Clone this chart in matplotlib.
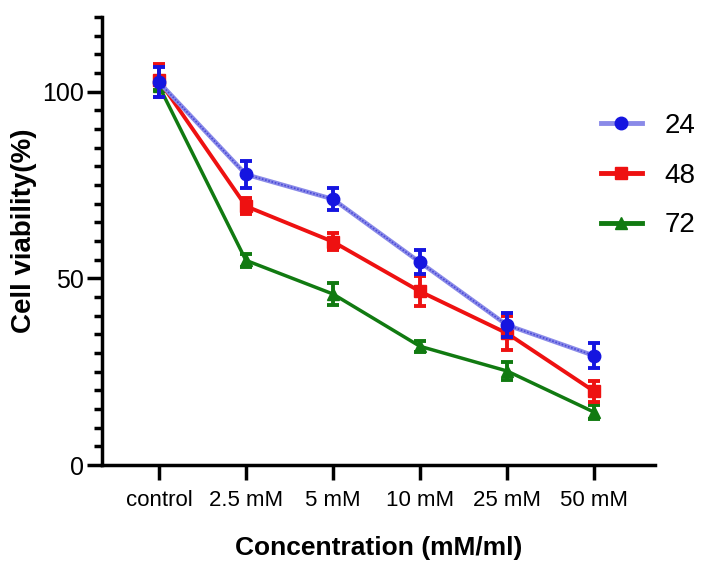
import matplotlib
matplotlib.use("Agg")
import matplotlib.pyplot as plt
from matplotlib.ticker import MultipleLocator
from matplotlib.lines import Line2D
import numpy as np

plt.rcParams['font.family'] = ['Liberation Sans', 'DejaVu Sans']

categories = ["control", "2.5 mM", "5 mM", "10 mM", "25 mM", "50 mM"]
series_names = ["24", "48", "72"]

mean_24 = [102.5, 77.8, 71.2, 54.3, 37.5, 29.3]
err_24 = [4.0, 3.5, 3.0, 3.2, 3.2, 3.3]
mean_48 = [103.0, 69.3, 59.8, 46.5, 35.3, 19.8]
err_48 = [4.5, 2.2, 2.2, 4.0, 4.5, 2.8]
mean_72 = [101.5, 54.8, 45.8, 31.8, 25.2, 14.2]
err_72 = [1.2, 1.8, 3.0, 1.5, 2.5, 2.0]

fig = plt.figure(figsize=(7.01, 5.61), dpi=100)
ax = fig.add_axes([0.1455, 0.171, 0.7885, 0.799])

x = np.arange(len(categories))

# 72 h (green, triangles)
ax.errorbar(x, mean_72, yerr=err_72, color="#117a11", marker="^", markersize=8.5,
            linewidth=2.5, elinewidth=2.8, capsize=4, capthick=2.8, zorder=3)
# 48 h (red, squares)
ax.errorbar(x, mean_48, yerr=err_48, color="#ee1111", marker="s", markersize=8.5,
            linewidth=2.8, elinewidth=2.8, capsize=4, capthick=2.8, zorder=4)
# 24 h (blue, dotted light line)
ax.errorbar(x, mean_24, yerr=err_24, color="#1515e0", marker="o", markersize=9,
            linestyle="none", elinewidth=2.8, capsize=4, capthick=2.8, zorder=6)
ax.plot(x, mean_24, color="#8a8ae8", linewidth=3.2, zorder=5)
ax.plot(x, mean_24, color="#4a4ad8", linewidth=1.2, linestyle=(0, (1, 1)), zorder=5)

# legend handles
h24 = Line2D([], [], color="#8a8ae8", linewidth=3.5, marker="o", markersize=9,
             markerfacecolor="#1515e0", markeredgecolor="#1515e0")
h48 = Line2D([], [], color="#ee1111", linewidth=3.5, marker="s", markersize=8)
h72 = Line2D([], [], color="#117a11", linewidth=3.5, marker="^", markersize=8)
fig.legend([h24, h48, h72], series_names, loc="upper left",
           bbox_to_anchor=(0.821, 0.843), frameon=False, fontsize=20,
           handlelength=1.5, handletextpad=0.8, labelspacing=0.85)

ax.set_xlim(-0.655, 5.70)
ax.set_ylim(0, 120)
ax.set_xticks(x)
ax.set_xticklabels(categories, fontsize=16)
ax.set_yticks([0, 50, 100])
ax.yaxis.set_minor_locator(MultipleLocator(5))
ax.tick_params(axis="y", labelsize=18, width=2.5, length=11, direction="out", pad=2)
ax.tick_params(axis="y", which="minor", width=2.5, length=6)
ax.tick_params(axis="x", width=2.5, length=11, pad=7)

for side in ["top", "right"]:
    ax.spines[side].set_visible(False)
for side in ["left", "bottom"]:
    ax.spines[side].set_linewidth(2.5)

ax.set_xlabel("Concentration (mM/ml)", fontsize=19, fontweight="bold", labelpad=18)
ax.set_ylabel("Cell viability(%)", fontsize=20, fontweight="bold")
ax.yaxis.set_label_coords(-0.117, 0.522)

fig.savefig("out.png", dpi=100)
